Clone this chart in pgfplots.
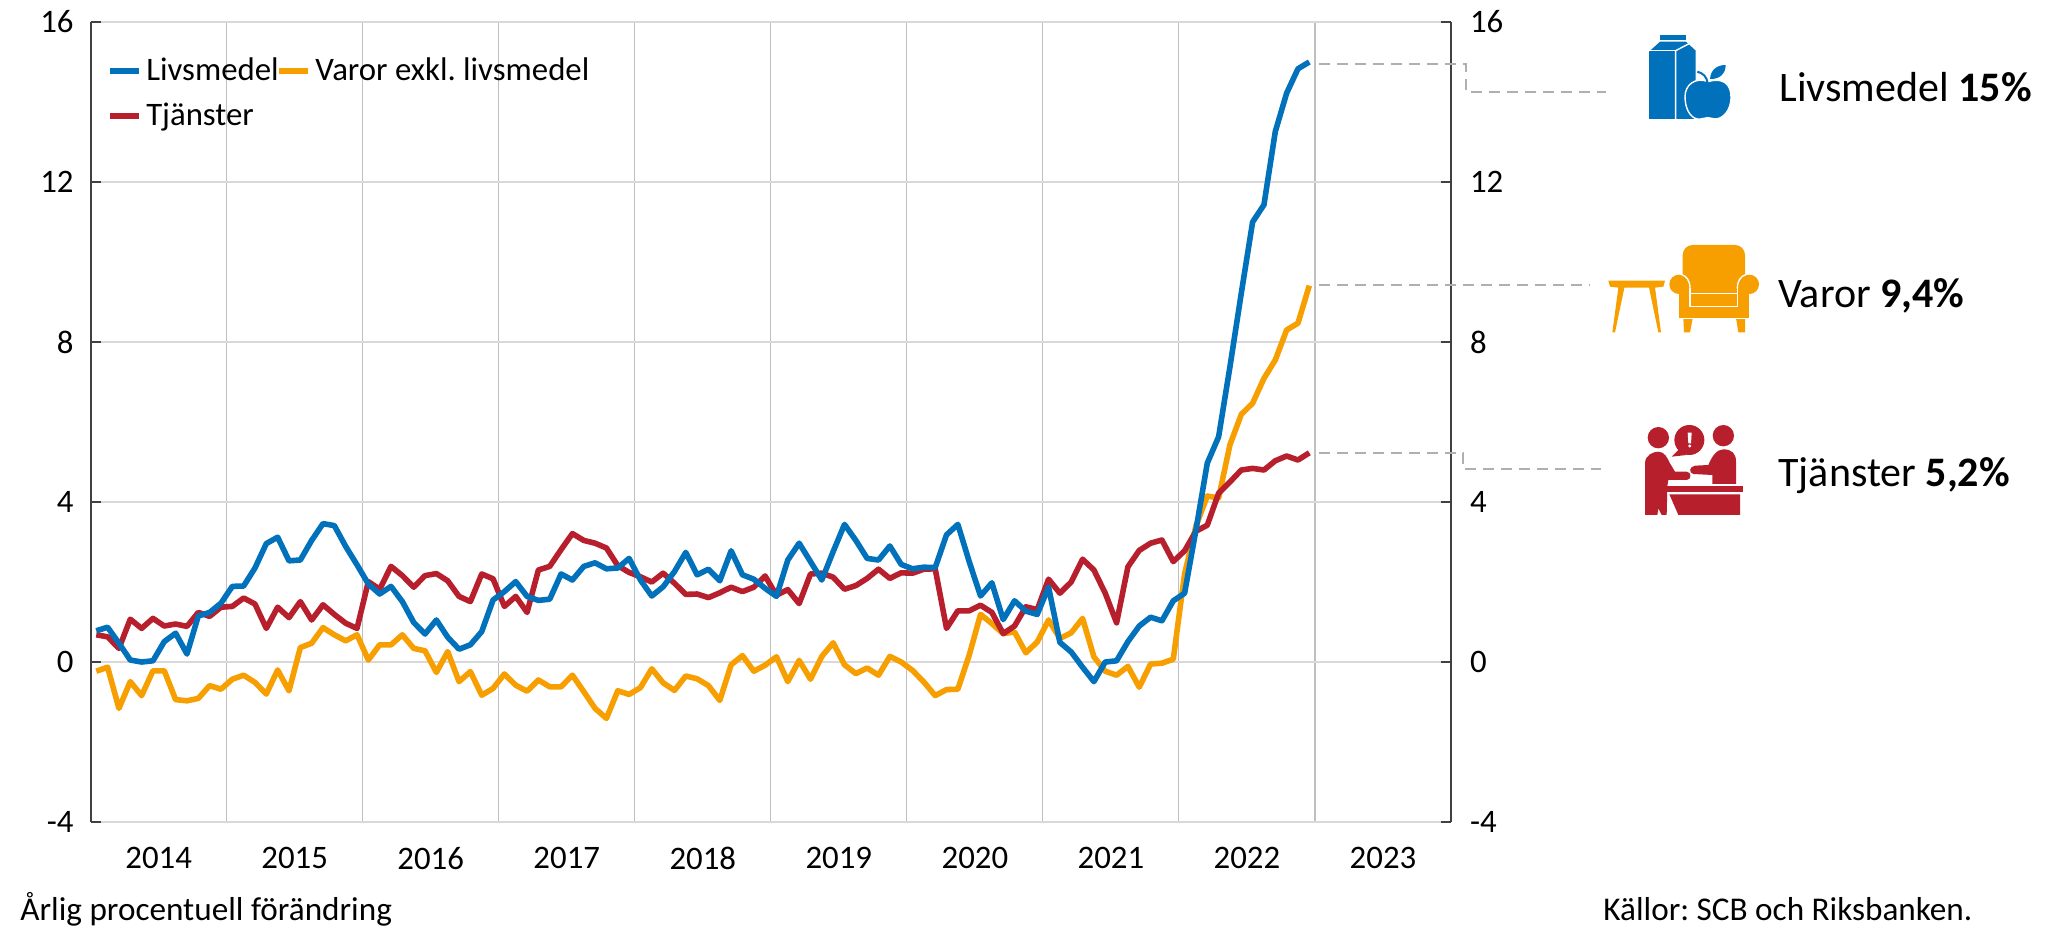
\documentclass[border=0pt]{standalone}
\usepackage{pgfplots}
\pgfplotsset{compat=1.18}
\usepackage{fontspec}
\setmainfont{Carlito}
\definecolor{cblue}{HTML}{0071BA}
\definecolor{corange}{HTML}{F79E00}
\definecolor{cred}{HTML}{B81F2D}
\definecolor{axdark}{HTML}{404040}
\definecolor{gridh}{HTML}{D9D9D9}
\definecolor{gridv}{HTML}{BFBFBF}
\definecolor{dashc}{HTML}{B0AEAE}
\newcommand{\txt}{\fontsize{16.4}{19}\selectfont}
\pgfplotsset{
  base/.style={
    at={(45.3pt,53pt)}, anchor=south west, scale only axis,
    width=680.2pt, height=400pt,
    xmin=0, xmax=120, ymin=-4, ymax=16,
    ytick={-4,0,4,8,12,16},
    yticklabels={-4,0,4,8,12,16},
    xtick={6,18,30,42,54,66,78,90,102,114},
    xticklabels={2014,2015,2016,2017,2018,2019,2020,2021,2022,2023},
    tick label style={font=\txt, text=black},
    axis line style={draw=none},
    x tick style={draw=none},
    major tick length=5pt,
    y tick style={draw=axdark, line width=0.9pt},
    tick align=inside,
  }
}
\begin{document}
\frenchspacing
\begin{tikzpicture}[x=0.5pt,y=0.5pt]
\useasboundingbox (0,0) rectangle (2054,928);
\begin{axis}[base,
  ytick pos=left, yticklabel pos=left,
  xtick pos=bottom,
  minor xtick={12,24,36,48,60,72,84,96,108},
  minor tick length=0pt,
  xminorgrids=true, ymajorgrids=true,
  major grid style={draw=gridh, line width=0.9pt},
  minor grid style={draw=gridv, line width=0.55pt},
  yticklabel style={xshift=-5pt},
  xticklabel style={yshift=-9pt},
  clip=false,
  legend columns=2,
  legend cell align=left,
  legend style={at={(rel axis cs:0.0115,0.9575)}, anchor=north west, draw=none, fill=none,
    inner sep=0pt, outer sep=0pt, font=\txt, row sep=7.6pt,
    /tikz/column 2/.style={column sep=-2.6pt},
    nodes={inner sep=1pt}},
  legend image code/.code={\path[draw=none] (0,0) -- (19pt,0); \draw[#1, line width=2.8pt] (2pt,0) -- (16.5pt,0);},
]
\addlegendimage{cblue}\addlegendentry{Livsmedel}
\addlegendimage{corange}\addlegendentry{Varor exkl. livsmedel}
\addlegendimage{cred}\addlegendentry{Tjänster}
% Varor exkl. livsmedel
\addplot[forget plot, corange, line width=2.8pt, line join=round] coordinates {
(0.5,-0.23)(1.5,-0.13)(2.5,-1.16)(3.5,-0.49)(4.5,-0.84)(5.5,-0.22)(6.5,-0.22)(7.5,-0.94)(8.5,-0.97)(9.5,-0.91)(10.5,-0.59)(11.5,-0.68)
(12.5,-0.43)(13.5,-0.33)(14.5,-0.51)(15.5,-0.80)(16.5,-0.20)(17.5,-0.72)(18.5,0.36)(19.5,0.47)(20.5,0.86)(21.5,0.68)(22.5,0.53)(23.5,0.68)
(24.5,0.05)(25.5,0.43)(26.5,0.43)(27.5,0.68)(28.5,0.34)(29.5,0.28)(30.5,-0.26)(31.5,0.26)(32.5,-0.49)(33.5,-0.24)(34.5,-0.83)(35.5,-0.66)
(36.5,-0.30)(37.5,-0.58)(38.5,-0.73)(39.5,-0.45)(40.5,-0.62)(41.5,-0.62)(42.5,-0.33)(43.5,-0.74)(44.5,-1.16)(45.5,-1.41)(46.5,-0.72)(47.5,-0.81)
(48.5,-0.64)(49.5,-0.17)(50.5,-0.52)(51.5,-0.71)(52.5,-0.35)(53.5,-0.42)(54.5,-0.59)(55.5,-0.96)(56.5,-0.07)(57.5,0.16)(58.5,-0.23)(59.5,-0.08)
(60.5,0.13)(61.5,-0.49)(62.5,0.04)(63.5,-0.43)(64.5,0.14)(65.5,0.48)(66.5,-0.07)(67.5,-0.29)(68.5,-0.15)(69.5,-0.33)(70.5,0.14)(71.5,0)
(72.5,-0.21)(73.5,-0.50)(74.5,-0.84)(75.5,-0.69)(76.5,-0.68)(77.5,0.17)(78.5,1.19)(79.5,0.96)(80.5,0.71)(81.5,0.75)(82.5,0.23)(83.5,0.50)
(84.5,1.05)(85.5,0.59)(86.5,0.73)(87.5,1.09)(88.5,0.13)(89.5,-0.23)(90.5,-0.33)(91.5,-0.11)(92.5,-0.63)(93.5,-0.05)(94.5,-0.03)(95.5,0.07)
(96.5,2.20)(97.5,3.40)(98.5,4.15)(99.5,4.10)(100.5,5.43)(101.5,6.19)(102.5,6.47)(103.5,7.09)(104.5,7.55)(105.5,8.30)(106.5,8.47)(107.5,9.41)
};
% Tjänster
\addplot[forget plot, cred, line width=2.8pt, line join=round] coordinates {
(0.5,0.68)(1.5,0.63)(2.5,0.34)(3.5,1.07)(4.5,0.84)(5.5,1.09)(6.5,0.90)(7.5,0.95)(8.5,0.89)(9.5,1.24)(10.5,1.14)(11.5,1.37)
(12.5,1.39)(13.5,1.60)(14.5,1.45)(15.5,0.84)(16.5,1.37)(17.5,1.11)(18.5,1.51)(19.5,1.05)(20.5,1.43)(21.5,1.19)(22.5,0.97)(23.5,0.84)
(24.5,2.01)(25.5,1.82)(26.5,2.39)(27.5,2.16)(28.5,1.87)(29.5,2.16)(30.5,2.21)(31.5,2.03)(32.5,1.64)(33.5,1.51)(34.5,2.20)(35.5,2.08)
(36.5,1.39)(37.5,1.64)(38.5,1.24)(39.5,2.30)(40.5,2.39)(41.5,2.81)(42.5,3.21)(43.5,3.04)(44.5,2.97)(45.5,2.85)(46.5,2.41)(47.5,2.24)
(48.5,2.13)(49.5,2.00)(50.5,2.22)(51.5,1.97)(52.5,1.69)(53.5,1.70)(54.5,1.61)(55.5,1.73)(56.5,1.87)(57.5,1.76)(58.5,1.87)(59.5,2.15)
(60.5,1.67)(61.5,1.81)(62.5,1.46)(63.5,2.20)(64.5,2.22)(65.5,2.12)(66.5,1.82)(67.5,1.91)(68.5,2.09)(69.5,2.32)(70.5,2.09)(71.5,2.23)
(72.5,2.22)(73.5,2.32)(74.5,2.33)(75.5,0.84)(76.5,1.28)(77.5,1.28)(78.5,1.42)(79.5,1.24)(80.5,0.71)(81.5,0.90)(82.5,1.38)(83.5,1.31)
(84.5,2.07)(85.5,1.72)(86.5,2.00)(87.5,2.57)(88.5,2.30)(89.5,1.72)(90.5,0.98)(91.5,2.38)(92.5,2.79)(93.5,2.97)(94.5,3.05)(95.5,2.51)
(96.5,2.78)(97.5,3.27)(98.5,3.42)(99.5,4.22)(100.5,4.50)(101.5,4.80)(102.5,4.84)(103.5,4.80)(104.5,5.03)(105.5,5.15)(106.5,5.05)(107.5,5.23)
};
% Livsmedel
\addplot[forget plot, cblue, line width=2.8pt, line join=round] coordinates {
(0.5,0.78)(1.5,0.87)(2.5,0.47)(3.5,0.05)(4.5,0)(5.5,0.03)(6.5,0.51)(7.5,0.72)(8.5,0.20)(9.5,1.15)(10.5,1.24)(11.5,1.47)
(12.5,1.89)(13.5,1.90)(14.5,2.35)(15.5,2.96)(16.5,3.12)(17.5,2.53)(18.5,2.55)(19.5,3.04)(20.5,3.46)(21.5,3.41)(22.5,2.89)(23.5,2.43)
(24.5,1.95)(25.5,1.70)(26.5,1.89)(27.5,1.51)(28.5,0.99)(29.5,0.70)(30.5,1.05)(31.5,0.62)(32.5,0.32)(33.5,0.43)(34.5,0.76)(35.5,1.55)
(36.5,1.76)(37.5,2.01)(38.5,1.64)(39.5,1.54)(40.5,1.57)(41.5,2.20)(42.5,2.05)(43.5,2.39)(44.5,2.48)(45.5,2.33)(46.5,2.35)(47.5,2.59)
(48.5,2.05)(49.5,1.65)(50.5,1.88)(51.5,2.26)(52.5,2.74)(53.5,2.18)(54.5,2.32)(55.5,2.03)(56.5,2.78)(57.5,2.18)(58.5,2.07)(59.5,1.84)
(60.5,1.64)(61.5,2.55)(62.5,2.97)(63.5,2.51)(64.5,2.05)(65.5,2.76)(66.5,3.44)(67.5,3.04)(68.5,2.59)(69.5,2.55)(70.5,2.90)(71.5,2.44)
(72.5,2.33)(73.5,2.37)(74.5,2.36)(75.5,3.18)(76.5,3.44)(77.5,2.51)(78.5,1.65)(79.5,1.98)(80.5,1.06)(81.5,1.53)(82.5,1.27)(83.5,1.19)
(84.5,1.87)(85.5,0.49)(86.5,0.25)(87.5,-0.13)(88.5,-0.49)(89.5,0)(90.5,0.03)(91.5,0.51)(92.5,0.90)(93.5,1.12)(94.5,1.03)(95.5,1.53)
(96.5,1.72)(97.5,3.30)(98.5,4.97)(99.5,5.63)(100.5,7.38)(101.5,9.22)(102.5,11.00)(103.5,11.43)(104.5,13.26)(105.5,14.22)(106.5,14.83)(107.5,15.00)
};
\end{axis}
\begin{axis}[base,
  clip=false,
  ytick pos=both, yticklabel pos=right,
  xticklabels={}, xtick=\empty,
  yticklabel style={xshift=6pt},
]
\addplot[draw=none, forget plot] coordinates {(0,0)(120,0)};
\draw[axdark, line width=0.9pt] (rel axis cs:0,0) -- (rel axis cs:0,1);
\draw[axdark, line width=0.9pt] (rel axis cs:1,0) -- (rel axis cs:1,1);
\end{axis}
% everything below is in reference pixels (y down)
\begin{scope}[shift={(0,928)}, yscale=-1]
\draw[dashc, line width=1.1pt, dash pattern=on 5.5pt off 3.5pt]
  (1319,64) -- (1466,64) -- (1466,92) -- (1606,92);
\draw[dashc, line width=1.1pt, dash pattern=on 5.5pt off 3.5pt]
  (1319,285) -- (1590,285);
\draw[dashc, line width=1.1pt, dash pattern=on 5.5pt off 3.5pt]
  (1319,453) -- (1463,453) -- (1463,469) -- (1601,469);
\node[anchor=base west, inner sep=0pt, font=\fontsize{16.6}{19}\selectfont] at (20,920) {Årlig procentuell förändring};
\node[anchor=base west, inner sep=0pt, font=\fontsize{16.6}{19}\selectfont] at (1603,920) {Källor: SCB och Riksbanken.};
\node[anchor=base west, inner sep=0pt, font=\fontsize{21}{24}\selectfont] at (1779,102) {Livsmedel \textbf{15\%}};
\node[anchor=base west, inner sep=0pt, font=\fontsize{21}{24}\selectfont] at (1778,308) {Varor \textbf{9,4\%}};
\node[anchor=base west, inner sep=0pt, font=\fontsize{21}{24}\selectfont] at (1778,486) {Tjänster \textbf{5,2\%}};
\end{scope}
% icon: carton and apple
\begin{scope}[shift={(1580,908)}, xscale=1/3, yscale=-1/3]
\fill[cblue] (240,45) rectangle (318,60);
\fill[cblue] (207,95) -- (240,65) -- (318,65) -- (347,92) -- (347,297) -- (207,297) -- cycle;
\draw[white, line width=0.7pt] (287,297) -- (287,92) -- (333,68);
\draw[white, line width=0.7pt] (207,92) -- (287,92);
\fill[cblue, draw=white, line width=0.7pt] (385,185) .. controls (430,170) and (455,195) .. (453,235)
  .. controls (452,270) and (430,297) .. (405,297) .. controls (395,297) and (390,292) .. (382,293)
  .. controls (372,293) and (365,299) .. (352,297) .. controls (330,293) and (315,265) .. (315,230)
  .. controls (315,195) and (345,170) .. (385,185) -- cycle;
\draw[cblue, line width=1pt] (352,155) .. controls (370,160) and (380,170) .. (383,190);
\fill[cblue] (390,177) .. controls (392,150) and (410,135) .. (437,135) .. controls (437,160) and (420,178) .. (390,177) -- cycle;
\end{scope}
% icon: table and armchair
\begin{scope}[shift={(1580,908)}, xscale=1/3, yscale=-1/3]
\fill[corange] (85,782) -- (255,782) -- (250,800) -- (225,803) -- (243,937) -- (235,937) -- (207,803)
  -- (133,803) -- (105,937) -- (97,937) -- (115,803) -- (90,800) -- cycle;
\fill[corange, rounded corners=5pt] (308,675) rectangle (495,815);
\fill[corange] (297,793) circle[radius=29];
\fill[corange] (508,793) circle[radius=29];
\fill[corange] (298,793) rectangle (507,895);
\fill[corange] (310,895) -- (338,895) -- (330,937) -- (312,937) -- cycle;
\fill[corange] (468,895) -- (495,895) -- (495,937) -- (475,937) -- cycle;
\draw[white, line width=0.7pt] (330,805) -- (330,860) -- (472,860) -- (472,805);
\draw[white, line width=0.7pt] (330,820) -- (472,820);
\draw[white, line width=0.7pt] (330,805) .. controls (330,780) and (318,768) .. (305,764);
\draw[white, line width=0.7pt] (472,805) .. controls (472,780) and (484,768) .. (497,764);
\draw[white, line width=0.4pt] (298,895) -- (507,895);
\end{scope}
% icon: two people at a counter
\begin{scope}[shift={(1580,528)}, xscale=1/3, yscale=-1/3]
\fill[cred] (235,113) circle[radius=32];
\fill[cred] (430,107) circle[radius=32];
\fill[cred] (328,120) circle[radius=45];
\fill[cred] (295,150) -- (275,170) -- (320,165) -- cycle;
\fill[white] (323,98) -- (335,98) -- (333,130) -- (325,130) -- cycle;
\fill[white] (329,138) circle[radius=5];
\fill[cred] (195,345) -- (195,190) .. controls (195,165) and (220,155) .. (235,155)
  .. controls (255,155) and (262,175) .. (270,190) -- (285,215) -- (320,215)
  .. controls (335,215) and (335,240) .. (320,240) -- (265,240) -- (262,258) -- (260,345) -- (245,345) -- (235,325) -- (232,345) -- cycle;
\fill[cred] (397,252) -- (397,225) -- (340,222) .. controls (325,218) and (328,200) .. (345,197) -- (385,195)
  .. controls (395,170) and (410,148) .. (430,148) .. controls (455,148) and (468,160) .. (468,185) -- (468,252) -- cycle;
\fill[cred] (258,258) rectangle (488,276);
\fill[cred] (268,283) -- (480,283) -- (480,345) -- (295,345) -- cycle;
\end{scope}
\end{tikzpicture}
\end{document}
